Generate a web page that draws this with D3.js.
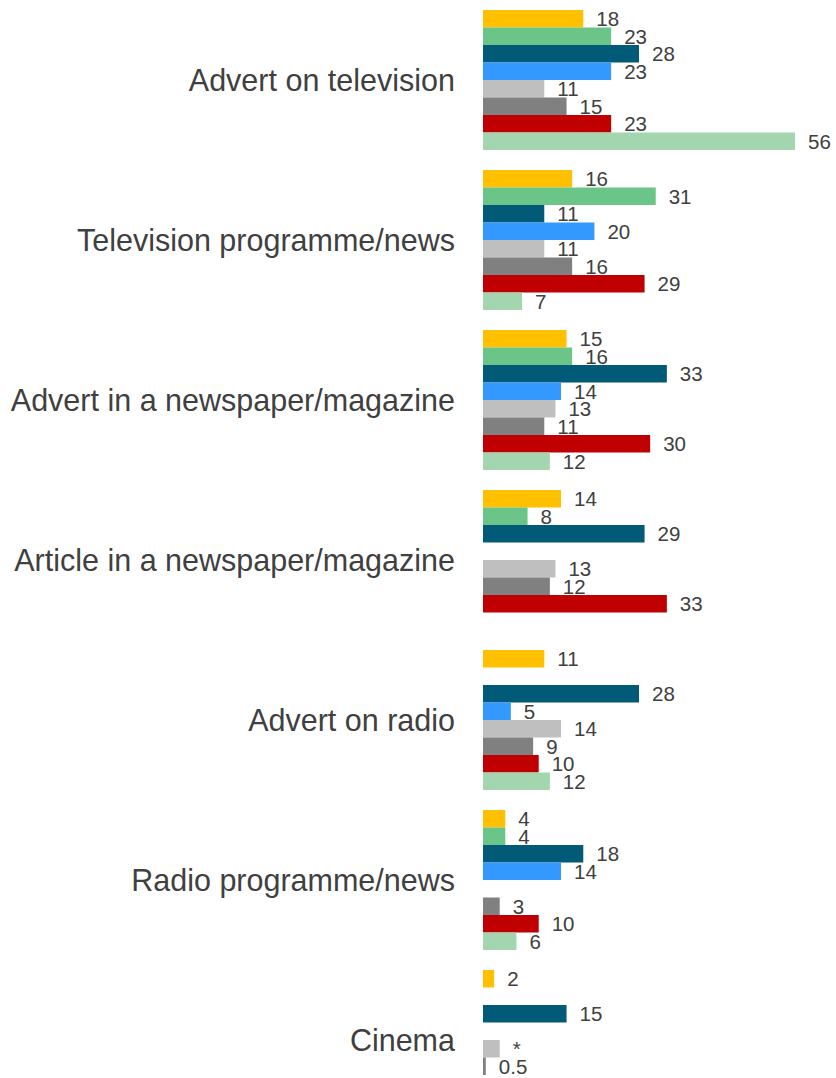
<!DOCTYPE html>
<html>
<head>
<meta charset="utf-8">
<script src="https://cdn.jsdelivr.net/npm/d3@7"></script>
<style>
  html, body { margin: 0; padding: 0; background: #fff; }
  svg { display: block; font-family: "Liberation Sans", Arial, sans-serif; }
</style>
</head>
<body>
<div id="chart"></div>
<script>
// Media sources, one group of bars per category
const categories = [
  "Advert on television",
  "Television programme/news",
  "Advert in a newspaper/magazine",
  "Article in a newspaper/magazine",
  "Advert on radio",
  "Radio programme/news",
  "Cinema"
];

// One array per series, in category order (null = no bar)
const seriesYellow     = [18, 16, 15, 14, 11, 4, 2];
const seriesGreen      = [23, 31, 16, 8, null, 4, null];
const seriesTeal       = [28, 11, 33, 29, 28, 18, 15];
const seriesBlue       = [23, 20, 14, null, 5, 14, null];
const seriesLightGrey  = [11, 11, 13, 13, 14, null, 3];
const seriesGrey       = [15, 16, 11, 12, 9, 3, 0.5];
const seriesRed        = [23, 29, 30, 33, 10, 10, null];
const seriesLightGreen = [56, 7, 12, null, 12, 6, null];

// Label overrides (value shown as text instead of the number)
const labelOverrides = { "Cinema|lightGrey": "*" };

const seriesKeys   = ["yellow", "green", "teal", "blue", "lightGrey", "grey", "red", "lightGreen"];
const seriesValues = [seriesYellow, seriesGreen, seriesTeal, seriesBlue,
                      seriesLightGrey, seriesGrey, seriesRed, seriesLightGreen];
const seriesColors = ["#FFC000", "#6CC588", "#005A78", "#3399FF",
                      "#BFBFBF", "#808080", "#C00000", "#A3D5AF"];

const width = 836, height = 1078;

const svg = d3.select("#chart").append("svg")
  .attr("width", width)
  .attr("height", height);

const x = d3.scaleLinear().domain([0, 56]).range([483, 795]);

const y0 = d3.scaleBand()
  .domain(categories)
  .range([0, 1120])
  .paddingInner(0.125)
  .paddingOuter(0.0625);

const y1 = d3.scaleBand()
  .domain(seriesKeys)
  .range([0, y0.bandwidth()])
  .padding(0);

const color = d3.scaleOrdinal().domain(seriesKeys).range(seriesColors);

const rows = [];
categories.forEach((cat, ci) => {
  seriesKeys.forEach((key, si) => {
    const v = seriesValues[si][ci];
    if (v !== null && v !== undefined) rows.push({ cat, key, value: v });
  });
});

const groups = svg.append("g").selectAll("g")
  .data(categories)
  .join("g")
  .attr("transform", d => `translate(0,${y0(d)})`);

groups.selectAll("rect")
  .data(cat => rows.filter(r => r.cat === cat))
  .join("rect")
  .attr("x", x(0))
  .attr("y", d => y1(d.key))
  .attr("width", d => x(d.value) - x(0))
  .attr("height", y1.bandwidth())
  .attr("fill", d => color(d.key));

groups.selectAll("text.value")
  .data(cat => rows.filter(r => r.cat === cat))
  .join("text")
  .attr("class", "value")
  .attr("x", d => x(d.value) + 13)
  .attr("y", d => y1(d.key) + y1.bandwidth() / 2)
  .attr("dy", "0.36em")
  .attr("font-size", 20.5)
  .attr("fill", "#404040")
  .text(d => labelOverrides[d.cat + "|" + d.key] ?? d3.format("")(d.value));

// Category labels on the left, right-aligned next to the bars
svg.append("g").selectAll("text")
  .data(categories)
  .join("text")
  .attr("x", 455)
  .attr("y", d => y0(d) + y0.bandwidth() / 2)
  .attr("dy", "0.36em")
  .attr("text-anchor", "end")
  .attr("font-size", 30.5)
  .attr("fill", "#404040")
  .text(d => d);
</script>
</body>
</html>
